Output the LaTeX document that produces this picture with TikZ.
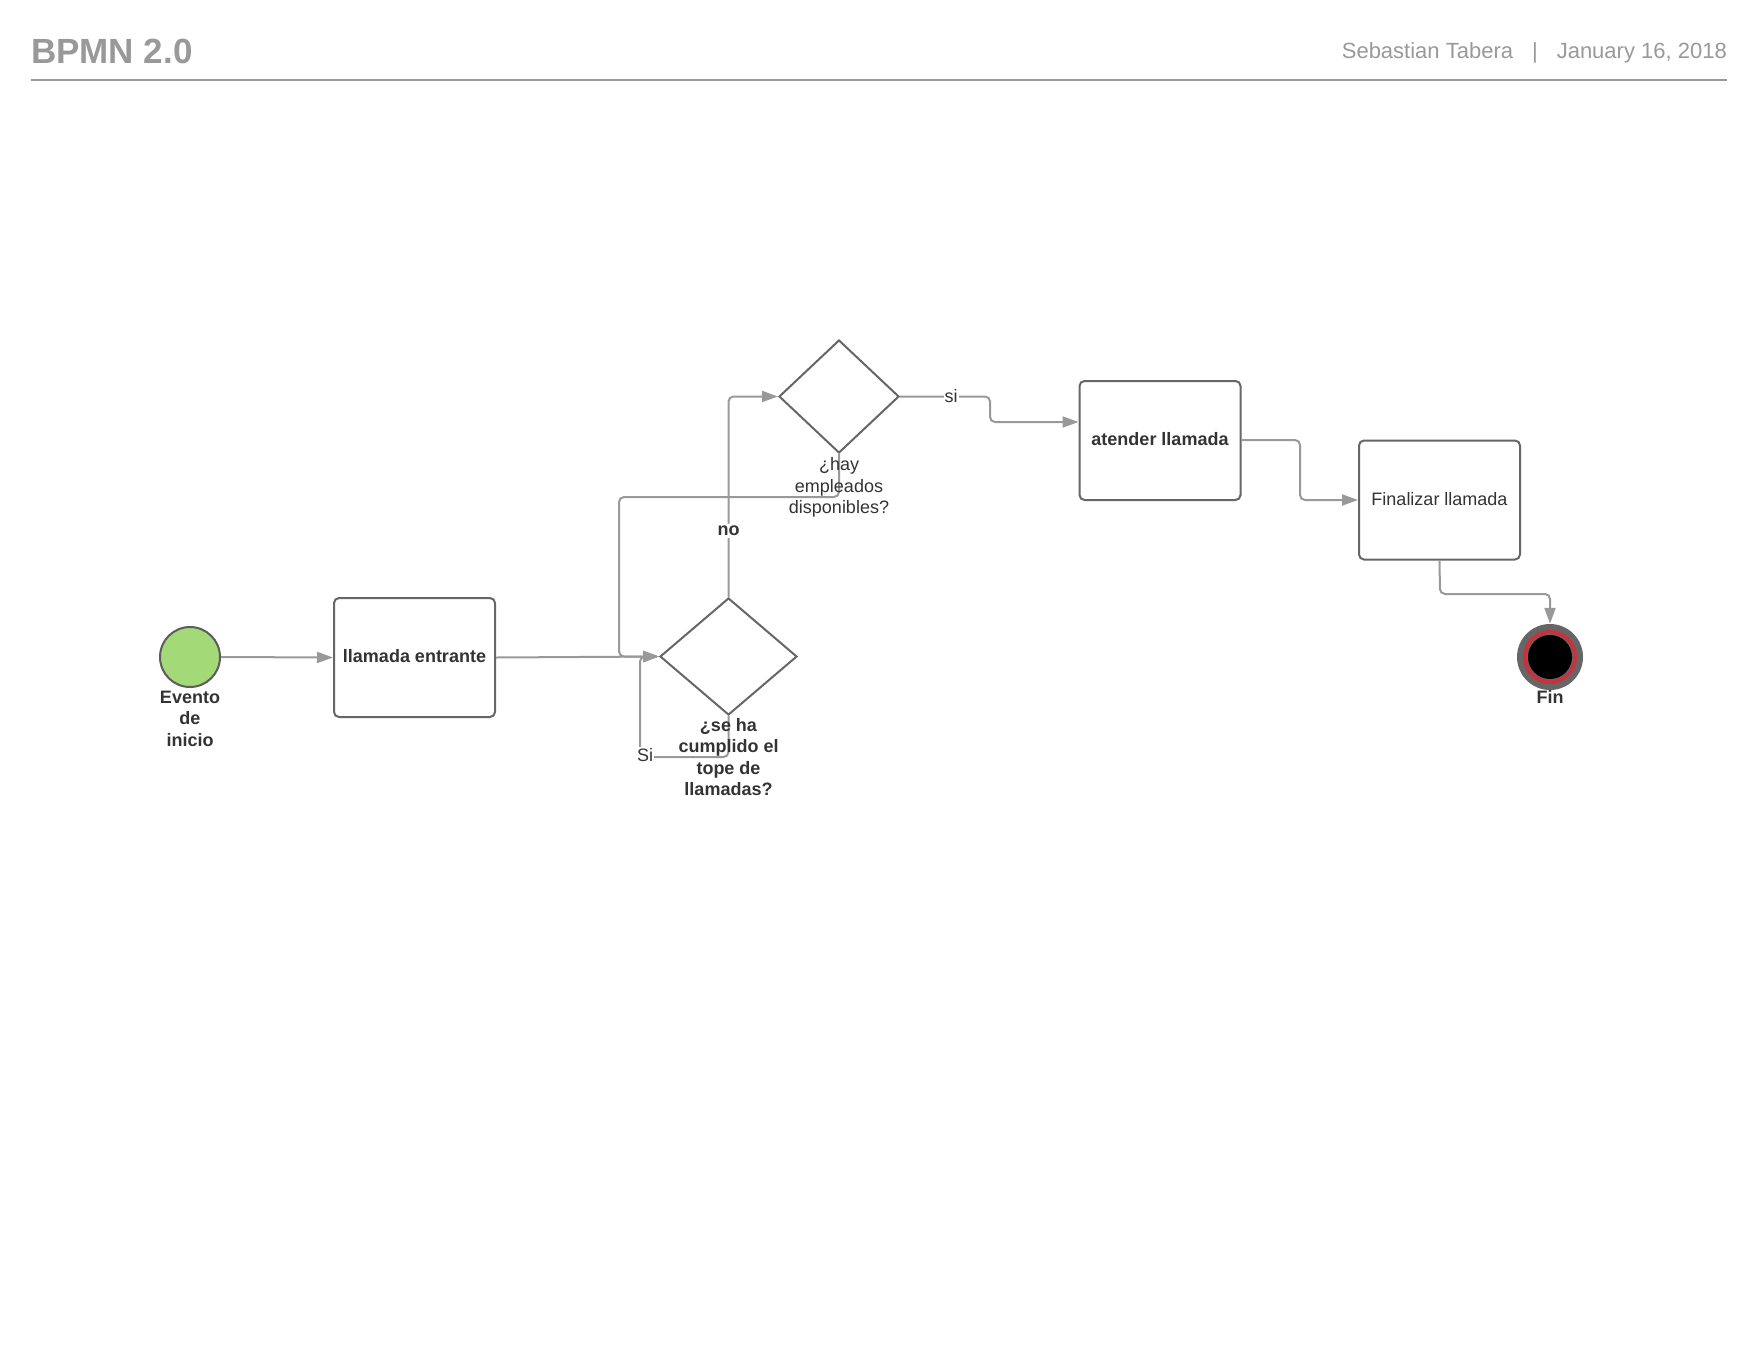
\documentclass[tikz,border=0pt]{standalone}
\usepackage{fontspec}
\setmainfont{Liberation Sans}
\usetikzlibrary{shapes.geometric,arrows.meta}
\definecolor{hdr}{HTML}{999999}
\definecolor{edge}{HTML}{999999}
\definecolor{border}{HTML}{666666}
\definecolor{txt}{HTML}{333333}
\definecolor{startgreen}{HTML}{A3D977}
\definecolor{endred}{HTML}{C8323C}
\newcommand{\up}[1]{\raisebox{2.5pt}{#1}}
\begin{document}
\begin{tikzpicture}[x=1pt,y=-1pt,
  every node/.style={font=\fontsize{18}{21.5}\selectfont, text=txt},
  task/.style={draw=border, line width=2pt, rounded corners=5pt, rectangle,
    minimum width=161pt, minimum height=119pt, inner sep=0pt, fill=white},
  gateway/.style={draw=border, line width=2pt, diamond, inner sep=0pt, fill=white},
  lbl/.style={align=center, inner sep=1pt},
  elbl/.style={fill=white, inner sep=2pt},
  flow/.style={draw=edge, line width=2pt, rounded corners=5pt,
    -{Triangle[length=16pt,width=11pt]}},
  plain/.style={draw=edge, line width=2pt, rounded corners=5pt}
]
\useasboundingbox (0,0) rectangle (1760,1360);

% header
\node[anchor=west, text=hdr, inner sep=0pt, font=\fontsize{35}{40}\selectfont\bfseries] (title) at (31,51) {BPMN 2.0};
\node[anchor=east, text=hdr, inner sep=0pt, font=\fontsize{22}{26}\selectfont] (author) at (1727,53)
  {Sebastian Tabera\hspace{19pt}|\hspace{19pt}January 16, 2018};
\coordinate (hl) at (31,80);
\coordinate (hr) at (1727,80);
\draw[hdr, line width=2pt] (hl) -- (hr);

% start event
\node[circle, draw=border!90!black, line width=2pt, fill=startgreen, minimum size=60pt, inner sep=0pt] (start) at (190,657) {};
\node[lbl, font=\fontsize{18}{21.5}\selectfont\bfseries] (startlbl) at (190,718.5) {Evento\\de\\inicio};

% tasks
\node[task, font=\fontsize{18}{21.5}\selectfont\bfseries] (llamada) at (414.5,657.5) {\up{llamada entrante}};
\node[task, font=\fontsize{18}{21.5}\selectfont\bfseries] (atender) at (1160,440.5) {\up{atender llamada}};
\node[task] (finalizar) at (1439.5,500) {\up{Finalizar llamada}};

% gateways
\node[gateway, minimum width=137pt, minimum height=117pt] (tope) at (728.5,656.5) {};
\node[gateway, minimum width=120pt, minimum height=113pt] (hay) at (839,396.5) {};

% end event
\node[circle, fill=border, minimum size=66pt, inner sep=0pt] (fin) at (1550,657) {};
\fill[endred] (fin.center) circle (27pt);
\fill[border] (fin.center) circle (23pt);
\fill[black] (fin.center) circle (22pt);
\node[font=\fontsize{18}{21.5}\selectfont\bfseries, inner sep=1pt] (finlbl) at (1550,696.5) {Fin};

% connectors
\draw[flow] (start.east) -- (llamada.west);
\draw[flow] (llamada.east) -- (tope.west);

\coordinate (c1) at (839,497);
\coordinate (c2) at (619,497);
\draw[flow] (hay.south) -- (c1) -- (c2) -- (c2 |- tope.west) -- (tope.west);

\draw[flow] (tope.north) -- node[elbl, pos=0.33, font=\fontsize{18}{21.5}\selectfont\bfseries] (nolbl) {no} (tope.north |- hay.west) -- (hay.west);

\coordinate (s1) at (728.5,757);
\coordinate (s2) at (640,757);
\draw[flow] (tope.south) -- (s1) -- (s2) -- (s2 |- tope.west) -- (tope.west);
\node[elbl, inner sep=1pt] (silbl) at (645,755) {Si};

\coordinate (a1) at (990,396.5);
\coordinate (a2) at (990,422);
\coordinate (a3) at (atender.west |- a2);
\draw[flow] (hay.east) -- (a1) -- (a2) -- (a3);
\node[elbl, inner sep=1pt] (si2lbl) at (951,396) {si};

\coordinate (b0) at (atender.east |- 0,440);
\coordinate (b1) at (1300,440);
\coordinate (b2) at (1300,500);
\draw[flow] (b0) -- (b1) -- (b2) -- (finalizar.west);

\coordinate (f1) at (1440,594);
\coordinate (f2) at (1550,594);
\draw[flow] (finalizar.south) -- (f1) -- (f2) -- (fin.north);

% gateway labels
\node[lbl] (haylbl) at (839,487.5) {¿hay\\empleados\\disponibles?};
\node[lbl, font=\fontsize{18}{21.5}\selectfont\bfseries] (topelbl) at (728.5,757) {¿se ha\\cumplido el\\tope de\\llamadas?};
\end{tikzpicture}
\end{document}
